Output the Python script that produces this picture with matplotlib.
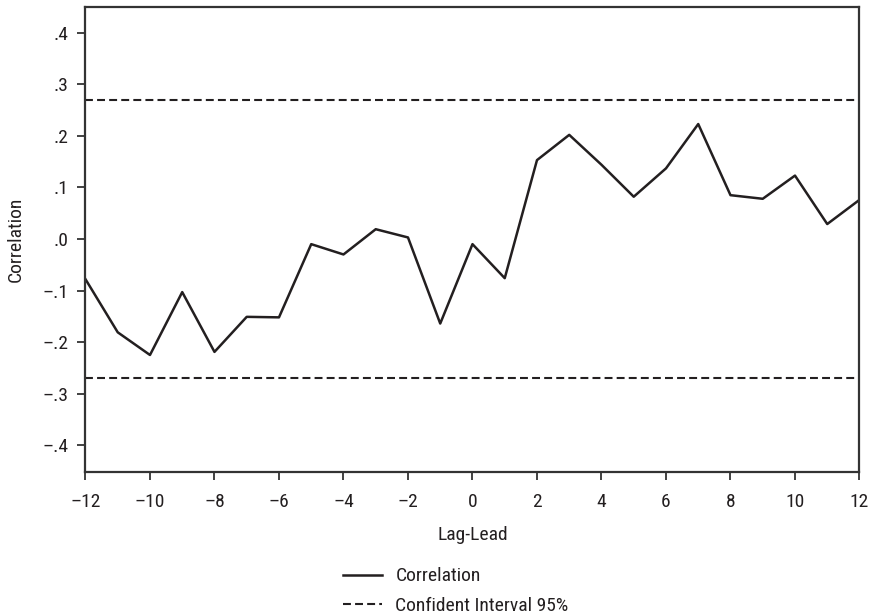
import matplotlib
matplotlib.use('Agg')
import matplotlib.pyplot as plt
from matplotlib import font_manager

# --- DATA ---
lags = list(range(-12, 13))
correlation = [-0.078, -0.181, -0.225, -0.103, -0.219, -0.151, -0.152, -0.010,
               -0.030, 0.019, 0.003, -0.164, -0.010, -0.076, 0.153, 0.202,
               0.144, 0.082, 0.137, 0.223, 0.085, 0.078, 0.123, 0.029, 0.076]
ci_level = 0.27   # 95% confidence bound (+/-)

xticks = list(range(-12, 13, 2))
xtick_labels = ['\u201312', '\u201310', '\u20138', '\u20136', '\u20134', '\u20132',
                '0', '2', '4', '6', '8', '10', '12']
yticks = [-0.4, -0.3, -0.2, -0.1, 0.0, 0.1, 0.2, 0.3, 0.4]
ytick_labels = ['\u2013.4', '\u2013.3', '\u2013.2', '\u2013.1', '.0', '.1', '.2', '.3', '.4']

# --- STYLE ---
names = {f.name for f in font_manager.fontManager.ttflist}
family = 'Roboto Condensed' if 'Roboto Condensed' in names else 'DejaVu Sans'
plt.rcParams['font.family'] = [family, 'DejaVu Sans']
plt.rcParams['font.size'] = 14
ink = '#231f20'
dash = (0, (3.8, 2.0))

fig = plt.figure(figsize=(8.74, 6.15), dpi=100)
ax = fig.add_axes([0.0978, 0.2325, 0.8856, 0.7561])

ax.plot(lags, correlation, color=ink, lw=1.8, label='Correlation')
ax.axhline(ci_level, color=ink, lw=1.5, ls=dash, label='Confident Interval 95%')
ax.axhline(-ci_level, color=ink, lw=1.5, ls=dash)

ax.set_xlim(-12, 12)
ax.set_ylim(-0.452, 0.450)
ax.set_xticks(xticks)
ax.set_xticklabels(xtick_labels)
ax.set_yticks(yticks)
ax.set_yticklabels(ytick_labels)

for s in ax.spines.values():
    s.set_color('#333333')
    s.set_linewidth(1.6)
ax.tick_params(axis='both', direction='out', length=6, width=1.3, color='#333333',
               labelcolor=ink, labelsize=14)
ax.tick_params(axis='x', pad=9)
ax.tick_params(axis='y', pad=6)

ax.set_xlabel('Lag-Lead', fontsize=14, color=ink, labelpad=11)
ax.set_ylabel('Correlation', fontsize=14, color=ink)
ax.yaxis.set_label_coords(-0.078, 0.5)

fig.legend(loc='center left', bbox_to_anchor=(0.3924, 0.0385), frameon=False,
           fontsize=14, handlelength=2.0, handletextpad=0.7, labelspacing=0.6,
           borderpad=0, borderaxespad=0, labelcolor=ink)

fig.savefig('out.png', dpi=100)
